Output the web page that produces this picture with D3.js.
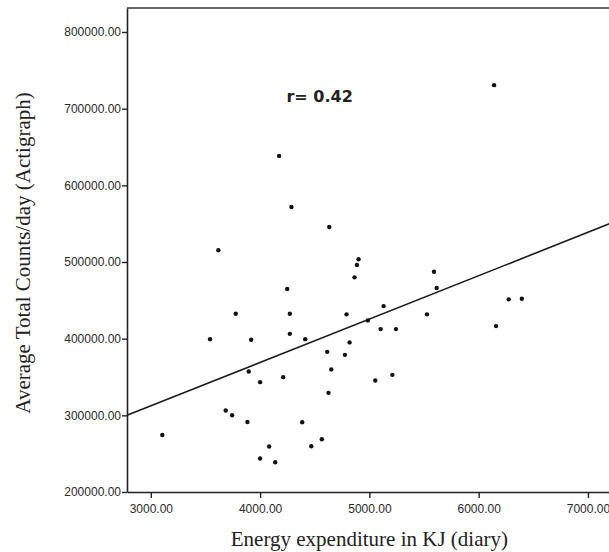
<!DOCTYPE html>
<html>
<head>
<meta charset="utf-8">
<script src="https://cdn.jsdelivr.net/npm/d3@7/dist/d3.min.js"></script>
<style>
  body { margin: 0; background: #fff; }
  .tick text { font-family: "Liberation Sans", Arial, sans-serif; font-size: 12px; fill: #2a2a2a; }
  .axTitle { font-family: "Liberation Serif", "Times New Roman", serif; font-size: 21px; fill: #222; }
</style>
</head>
<body>
<div id="chart"></div>
<script>
// Diary energy expenditure (KJ) vs Actigraph counts/day
let energyKJ = [
  4174, 4287, 4633, 3618, 6141, 4901, 4886, 4864, 5591, 4248,
  3777, 4272, 4791, 3542, 3918, 4272, 4413, 4819, 4614, 4776,
  3896, 4651, 4211, 4000, 4626, 3685, 3744, 3884, 4385, 3105,
  4565, 4083, 4468, 4000, 4138, 5616, 5130, 5527, 6275, 6395,
  6159, 4986, 5103, 5243, 5054, 5210
];
let countsPerDay = [
  638400, 571800, 545700, 515300, 730700, 503500, 496000, 480000, 487300, 464700,
  432500, 432500, 431700, 399400, 398500, 406300, 399400, 395100, 382800, 378900,
  357200, 359900, 349800, 343300, 329300, 306300, 300200, 291400, 291000, 274400,
  268800, 259300, 259700, 243600, 238800, 466000, 442500, 431700, 451300, 452100,
  416400, 423800, 412500, 412500, 345500, 352800
];

let xTicks = [3000, 4000, 5000, 6000, 7000];
let yTicks = [200000, 300000, 400000, 500000, 600000, 700000, 800000];

// regression line end points
let fitX = [2782, 7220];
let fitY = [300000, 551200];
let rLabel = "r= 0.42";

// Layout
let svgWidth = 609, svgHeight = 552;
let margin = { top: 8, right: -3, bottom: 60, left: 127 };
let chartWidth = svgWidth - margin.left - margin.right;
let chartHeight = svgHeight - margin.top - margin.bottom;

let svg = d3.select('#chart')
            .append('svg')
            .attr('width', svgWidth)
            .attr('height', svgHeight);

let chartGrp = svg.append('g')
            .attr('transform', `translate(${margin.left}, ${margin.top})`);

let xScale = d3.scaleLinear()
                .domain([2782, 7220])
                .range([0, chartWidth]);
let yScale = d3.scaleLinear()
                .domain([200000, 831300])
                .range([chartHeight, 0]);

// top border of the frame
chartGrp.append('line')
    .attr('x1', 0).attr('x2', chartWidth)
    .attr('y1', 0).attr('y2', 0)
    .attr('stroke', '#666')
    .attr('stroke-width', 2.2);

// axes
let xAxis = d3.axisBottom(xScale)
                .tickValues(xTicks)
                .tickFormat(d3.format('.2f'))
                .tickSize(6).tickSizeOuter(0).tickPadding(6);
let yAxis = d3.axisLeft(yScale)
                .tickValues(yTicks)
                .tickFormat(d3.format('.2f'))
                .tickSize(5).tickSizeOuter(0).tickPadding(1);

let xg = chartGrp.append('g')
    .attr('transform', `translate(0, ${chartHeight})`)
    .call(xAxis);
let yg = chartGrp.append('g')
    .call(yAxis);

[xg, yg].forEach(g => {
    g.select('.domain').attr('stroke', '#222').attr('stroke-width', 1.6);
    g.selectAll('.tick line').attr('stroke', '#222').attr('stroke-width', 1.4);
});

// fit line
let line = d3.line()
    .x(d => xScale(d[0]))
    .y(d => yScale(d[1]));

chartGrp.append('path')
    .datum(fitX.map((x, i) => [x, fitY[i]]))
    .attr('d', line)
    .attr('fill', 'none')
    .attr('stroke', '#1a1a1a')
    .attr('stroke-width', 1.6);

// points
chartGrp.selectAll('circle')
    .data(energyKJ.map((x, i) => [x, countsPerDay[i]]))
    .enter()
    .append('circle')
    .attr('cx', d => xScale(d[0]))
    .attr('cy', d => yScale(d[1]))
    .attr('r', 2.2)
    .attr('fill', '#111');

// correlation label
chartGrp.append('text')
    .attr('x', xScale(4241))
    .attr('y', yScale(709000))
    .attr('font-family', '"DejaVu Sans", sans-serif')
    .attr('font-weight', 'bold')
    .attr('font-size', 16)
    .attr('fill', '#222')
    .text(rLabel);

// axis titles
svg.append('text')
    .attr('class', 'axTitle')
    .attr('x', xScale(5000) + margin.left)
    .attr('y', 546)
    .attr('text-anchor', 'middle')
    .text('Energy expenditure in KJ (diary)');

svg.append('text')
    .attr('class', 'axTitle')
    .attr('transform', 'rotate(-90)')
    .attr('x', -253)
    .attr('y', 30)
    .attr('text-anchor', 'middle')
    .text('Average Total Counts/day (Actigraph)');
</script>
</body>
</html>
